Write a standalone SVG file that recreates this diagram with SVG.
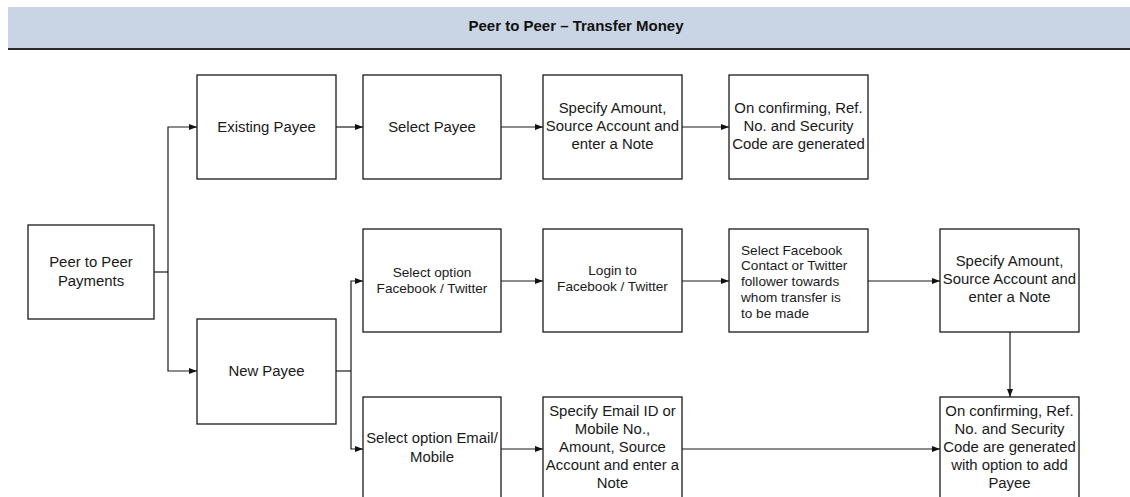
<svg xmlns="http://www.w3.org/2000/svg" width="1130" height="497" viewBox="0 0 1130 497">
  <defs>
    <marker id="arrow" viewBox="0 0 8 8" refX="8" refY="4" markerWidth="8" markerHeight="8" markerUnits="userSpaceOnUse" orient="auto">
      <path d="M0,1 L8,4 L0,7 Z" fill="#111"/>
    </marker>
    <style>
      .box { fill: #ffffff; stroke: #1a1a1a; stroke-width: 1.3; }
      .t { font-family: "Liberation Sans", Arial, sans-serif; font-size: 14.9px; fill: #1a1a1a; text-anchor: middle; }
      .s { font-family: "Liberation Sans", Arial, sans-serif; font-size: 13.6px; fill: #1a1a1a; text-anchor: middle; }
      .sl { font-family: "Liberation Sans", Arial, sans-serif; font-size: 13.6px; fill: #1a1a1a; text-anchor: start; }
      .title { font-family: "Liberation Sans", Arial, sans-serif; font-size: 15px; font-weight: bold; fill: #111; text-anchor: middle; }
      .link { fill: none; stroke: #1a1a1a; stroke-width: 1.2; }
      .arr { marker-end: url(#arrow); }
    </style>
  </defs>

  <rect width="1130" height="497" fill="#ffffff"/>

  <!-- header band -->
  <g id="header">
    <rect x="8" y="7" width="1122" height="42" fill="#c9d5e4"/>
    <line x1="8" y1="49" x2="1130" y2="49" stroke="#2a2a2a" stroke-width="2"/>
    <text class="title" x="576" y="31">Peer to Peer – Transfer Money</text>
  </g>

  <!-- connectors -->
  <g id="connectors">
    <polyline class="link" points="154,272 168,272"/>
    <polyline class="link arr" points="168,272 168,127 197,127"/>
    <polyline class="link arr" points="168,272 168,371 197,371"/>
    <line class="link arr" x1="336" y1="127" x2="363" y2="127"/>
    <line class="link arr" x1="501" y1="127" x2="543" y2="127"/>
    <line class="link arr" x1="682" y1="127" x2="729" y2="127"/>
    <polyline class="link" points="336,371 351,371"/>
    <polyline class="link arr" points="351,371 351,281 363,281"/>
    <polyline class="link arr" points="351,371 351,449 363,449"/>
    <line class="link arr" x1="501" y1="281" x2="543" y2="281"/>
    <line class="link arr" x1="682" y1="281" x2="729" y2="281"/>
    <line class="link arr" x1="868" y1="281" x2="940" y2="281"/>
    <line class="link arr" x1="1010" y1="332" x2="1010" y2="397"/>
    <line class="link arr" x1="501" y1="449" x2="543" y2="449"/>
    <line class="link arr" x1="682" y1="449" x2="940" y2="449"/>
  </g>

  <g id="p2p-payments">
    <rect class="box" x="28" y="225" width="126" height="94"/>
    <text class="t" x="91" y="267">Peer to Peer</text>
    <text class="t" x="91" y="286">Payments</text>
  </g>

  <g id="existing-payee">
    <rect class="box" x="197" y="75" width="139" height="104"/>
    <text class="t" x="266.5" y="132">Existing Payee</text>
  </g>

  <g id="select-payee">
    <rect class="box" x="363" y="75" width="138" height="104"/>
    <text class="t" x="432" y="132">Select Payee</text>
  </g>

  <g id="specify-amount-existing">
    <rect class="box" x="543" y="75" width="139" height="104"/>
    <text class="t" x="612.5" y="113">Specify Amount,</text>
    <text class="t" x="612.5" y="131">Source Account and</text>
    <text class="t" x="612.5" y="149">enter a Note</text>
  </g>

  <g id="confirm-existing">
    <rect class="box" x="729" y="75" width="139" height="104"/>
    <text class="t" x="798.5" y="113">On confirming, Ref.</text>
    <text class="t" x="798.5" y="131">No. and Security</text>
    <text class="t" x="798.5" y="149">Code are generated</text>
  </g>

  <g id="new-payee">
    <rect class="box" x="197" y="319" width="139" height="105"/>
    <text class="t" x="266.5" y="376">New Payee</text>
  </g>

  <g id="select-social">
    <rect class="box" x="363" y="229" width="138" height="103"/>
    <text class="s" x="432" y="277">Select option</text>
    <text class="s" x="432" y="293">Facebook / Twitter</text>
  </g>

  <g id="login-social">
    <rect class="box" x="543" y="229" width="139" height="103"/>
    <text class="s" x="612.5" y="275">Login to</text>
    <text class="s" x="612.5" y="291">Facebook / Twitter</text>
  </g>

  <g id="select-contact">
    <rect class="box" x="729" y="229" width="139" height="103"/>
    <text class="sl" x="741" y="255">Select Facebook</text>
    <text class="sl" x="741" y="270">Contact or Twitter</text>
    <text class="sl" x="741" y="286">follower towards</text>
    <text class="sl" x="741" y="302">whom transfer is</text>
    <text class="sl" x="741" y="318">to be made</text>
  </g>

  <g id="specify-amount-new">
    <rect class="box" x="940" y="229" width="139" height="103"/>
    <text class="t" x="1009.5" y="266">Specify Amount,</text>
    <text class="t" x="1009.5" y="284">Source Account and</text>
    <text class="t" x="1009.5" y="302">enter a Note</text>
  </g>

  <g id="select-email">
    <rect class="box" x="363" y="397" width="138" height="110"/>
    <text class="t" x="432" y="443">Select option Email/</text>
    <text class="t" x="432" y="462">Mobile</text>
  </g>

  <g id="specify-email">
    <rect class="box" x="543" y="397" width="139" height="110"/>
    <text class="t" x="612.5" y="416">Specify Email ID or</text>
    <text class="t" x="612.5" y="434">Mobile No.,</text>
    <text class="t" x="612.5" y="452">Amount, Source</text>
    <text class="t" x="612.5" y="470">Account and enter a</text>
    <text class="t" x="612.5" y="488">Note</text>
  </g>

  <g id="confirm-new">
    <rect class="box" x="940" y="397" width="139" height="110"/>
    <text class="t" x="1009.5" y="416">On confirming, Ref.</text>
    <text class="t" x="1009.5" y="434">No. and Security</text>
    <text class="t" x="1009.5" y="452">Code are generated</text>
    <text class="t" x="1009.5" y="470">with option to add</text>
    <text class="t" x="1009.5" y="488">Payee</text>
  </g>
</svg>
